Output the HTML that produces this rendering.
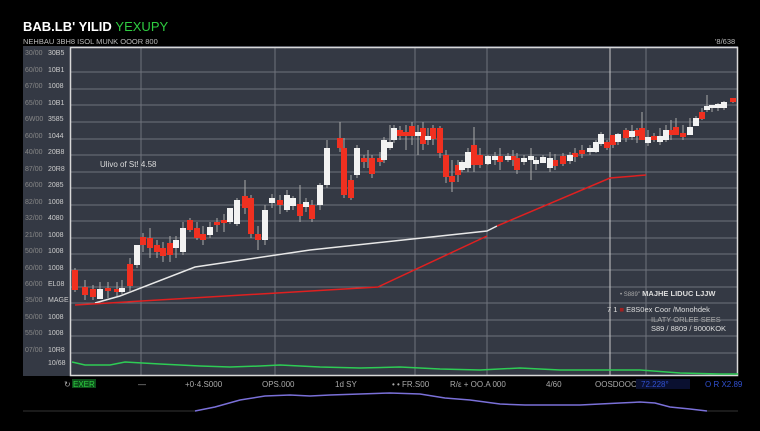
<!DOCTYPE html>
<html><head><meta charset="utf-8"><style>
body{margin:0;background:#000;width:760px;height:426px;overflow:hidden;font-family:"Liberation Sans",sans-serif}
</style></head><body>
<svg width="760" height="426" xmlns="http://www.w3.org/2000/svg" font-family="Liberation Sans, sans-serif">
<rect width="760" height="426" fill="#000"/>
<rect x="23" y="46" width="715" height="330" fill="#343944"/>
<g stroke="#6e737c" stroke-width="1">
<line x1="71" y1="72" x2="738" y2="72"/><line x1="71" y1="89" x2="738" y2="89"/><line x1="71" y1="105" x2="738" y2="105"/><line x1="71" y1="122" x2="738" y2="122"/><line x1="71" y1="139" x2="738" y2="139"/><line x1="71" y1="155" x2="738" y2="155"/><line x1="71" y1="172" x2="738" y2="172"/><line x1="71" y1="188" x2="738" y2="188"/><line x1="71" y1="205" x2="738" y2="205"/><line x1="71" y1="221" x2="738" y2="221"/><line x1="71" y1="238" x2="738" y2="238"/><line x1="71" y1="254" x2="738" y2="254"/><line x1="71" y1="270" x2="738" y2="270"/><line x1="71" y1="287" x2="738" y2="287"/><line x1="71" y1="303" x2="738" y2="303"/><line x1="71" y1="320" x2="738" y2="320"/><line x1="71" y1="336" x2="738" y2="336"/><line x1="71" y1="353" x2="738" y2="353"/>
<line x1="141" y1="47" x2="141" y2="375"/><line x1="275" y1="47" x2="275" y2="375"/><line x1="415" y1="47" x2="415" y2="375"/><line x1="487" y1="47" x2="487" y2="375"/><line x1="646" y1="47" x2="646" y2="375"/>
</g>
<line x1="610" y1="47" x2="610" y2="375" stroke="#c8c8c8"/>
<rect x="70.5" y="47.5" width="667" height="328" fill="none" stroke="#d8d8d8" stroke-width="1.5"/>
<text x="23" y="31" font-size="13" font-weight="bold" fill="#fff">BAB.LB' YILID <tspan fill="#2ecc40" font-weight="normal">YEXUPY</tspan></text>
<text x="23" y="44" font-size="7.5" fill="#bbb">NEHBAU 3BH8 ISOL MUNK OOOR 800</text>
<text x="715" y="44" font-size="7.5" fill="#bbb">'8/638</text>
<g font-size="7" fill="#888"><text x="25" y="55">30/00</text><text x="25" y="72">60/00</text><text x="25" y="88">67/00</text><text x="25" y="105">65/00</text><text x="25" y="121">6W00</text><text x="25" y="138">60/00</text><text x="25" y="154">40/00</text><text x="25" y="171">87/00</text><text x="25" y="187">60/00</text><text x="25" y="204">82/00</text><text x="25" y="220">32/00</text><text x="25" y="237">21/00</text><text x="25" y="253">50/00</text><text x="25" y="270">60/00</text><text x="25" y="286">60/00</text><text x="25" y="302">35/00</text><text x="25" y="319">50/00</text><text x="25" y="335">55/00</text><text x="25" y="352">07/00</text></g>
<g font-size="7" fill="#ccc"><text x="48" y="55">30B5</text><text x="48" y="72">10B1</text><text x="48" y="88">1008</text><text x="48" y="105">10B1</text><text x="48" y="121">3585</text><text x="48" y="138">1044</text><text x="48" y="154">20B8</text><text x="48" y="171">20R8</text><text x="48" y="187">2085</text><text x="48" y="204">1008</text><text x="48" y="220">4080</text><text x="48" y="237">1008</text><text x="48" y="253">1008</text><text x="48" y="270">1008</text><text x="48" y="286">EL08</text><text x="48" y="302">MAGE</text><text x="48" y="319">1008</text><text x="48" y="335">1008</text><text x="48" y="352">10R8</text><text x="48" y="365">10/68</text></g>
<text x="100" y="167" font-size="8" fill="#ddd">Ulivo of St! 4.58</text>
<polyline points="95,303 120,296 195,267 310,250 487,231 497,226" fill="none" stroke="#e8e8e8" stroke-width="1.5"/>
<polyline points="75,305 378,287 487,236" fill="none" stroke="#e02020" stroke-width="1.5"/>
<polyline points="497,226 610,178 646,175" fill="none" stroke="#e02020" stroke-width="1.5"/>
<polyline points="72,362 85,365 110,365 125,362 160,364 200,366 230,367 260,366 280,365 300,366 320,367 360,368 400,367 440,369 480,370 520,368 560,370 600,370 640,370 680,373 720,374 738,374" fill="none" stroke="#2ecc55" stroke-width="1.5"/>
<g id="c"></g>
<g stroke="#aaa" stroke-width="1">
<path d="M75 268V292M85 280V300M93 285V300M100 282V298M108 282V298M117 282V296M122 280V294M130 258V292M137 245V268M143 233V252M150 228V258M157 240V258M163 242V262M170 236V262M176 236V258M183 222V255M190 218V232M197 222V240M203 226V245M210 222V238M217 218V232M224 214V232M230 208V224M237 198V226M245 180V214M251 195V238M258 226V250M265 205V245M272 194V208M280 195V214M287 190V212M293 196V210M300 185V222M306 198V212M312 200V222M320 183V210M327 140V188M340 122V152M344 138V198M351 175V200M357 145V178M364 155V168M368 150V168M372 155V178M380 152V166M384 137V163M390 125V150M394 125V143M400 126V140M406 125V150M412 122V145M418 125V155M423 122V150M428 128V145M433 125V145M440 126V158M446 150V183M452 160V192M458 160V182M462 160V172M468 148V172M474 127V172M480 148V168M488 155V165M495 152V165M500 148V170M508 153V162M513 150V166M517 153V174M524 155V165M531 148V180M536 157V170M543 155V163M550 152V172M555 154V170M563 153V166M570 152V164M575 148V162M582 145V158M590 145V155M596 140V153M601 132V146M607 140V150M613 138V148M618 133V145M626 128V142M632 125V140M637 128V143M642 112V140M648 130V146M654 133V142M660 128V145M666 125V142M671 120V140M676 118V135M683 125V140M690 118V135M696 116V125M702 108V120M707 95V112M712 105V112M718 103V111M724 101V110M733 98V103"/>
</g>
<g fill="#f03020">
<rect x="72" y="270" width="6" height="20"/><rect x="82" y="287" width="6" height="8"/><rect x="90" y="289" width="6" height="8"/><rect x="105" y="288" width="6" height="3"/><rect x="114" y="289" width="6" height="3"/><rect x="127" y="264" width="6" height="22"/><rect x="140" y="237" width="6" height="8"/><rect x="147" y="238" width="6" height="10"/><rect x="154" y="245" width="6" height="7"/><rect x="160" y="248" width="6" height="8"/><rect x="167" y="243" width="6" height="12"/><rect x="187" y="220" width="6" height="10"/><rect x="194" y="228" width="6" height="10"/><rect x="200" y="234" width="6" height="6"/><rect x="214" y="222" width="6" height="3"/><rect x="221" y="220" width="6" height="3"/><rect x="242" y="196" width="6" height="12"/><rect x="248" y="198" width="6" height="36"/><rect x="255" y="234" width="6" height="6"/><rect x="277" y="200" width="6" height="5"/><rect x="297" y="204" width="6" height="12"/><rect x="309" y="205" width="6" height="14"/><rect x="337" y="138" width="6" height="10"/><rect x="341" y="148" width="6" height="47"/><rect x="348" y="180" width="6" height="18"/><rect x="361" y="158" width="6" height="4"/><rect x="369" y="158" width="6" height="16"/><rect x="377" y="158" width="6" height="4"/><rect x="397" y="130" width="6" height="6"/><rect x="403" y="132" width="6" height="4"/><rect x="409" y="126" width="6" height="10"/><rect x="420" y="128" width="6" height="16"/><rect x="430" y="128" width="6" height="11"/><rect x="437" y="128" width="6" height="25"/><rect x="443" y="155" width="6" height="22"/><rect x="449" y="176" width="6" height="6"/><rect x="455" y="165" width="6" height="10"/><rect x="471" y="145" width="6" height="20"/><rect x="477" y="155" width="6" height="10"/><rect x="497" y="156" width="6" height="6"/><rect x="510" y="156" width="6" height="4"/><rect x="514" y="158" width="6" height="12"/><rect x="552" y="160" width="6" height="6"/><rect x="560" y="156" width="6" height="8"/><rect x="572" y="153" width="6" height="4"/><rect x="579" y="150" width="6" height="4"/><rect x="604" y="142" width="6" height="6"/><rect x="610" y="135" width="6" height="10"/><rect x="623" y="130" width="6" height="8"/><rect x="634" y="130" width="6" height="6"/><rect x="639" y="128" width="6" height="12"/><rect x="651" y="136" width="6" height="4"/><rect x="668" y="130" width="6" height="5"/><rect x="673" y="127" width="6" height="8"/><rect x="680" y="133" width="6" height="4"/><rect x="699" y="112" width="6" height="7"/><rect x="730" y="98" width="6" height="4"/>
</g>
<g fill="#f2f2f2">
<rect x="97" y="289" width="6" height="10"/><rect x="119" y="288" width="6" height="4"/><rect x="134" y="245" width="6" height="20"/><rect x="173" y="240" width="6" height="8"/><rect x="180" y="228" width="6" height="24"/><rect x="207" y="227" width="6" height="8"/><rect x="227" y="208" width="6" height="14"/><rect x="234" y="200" width="6" height="24"/><rect x="262" y="210" width="6" height="30"/><rect x="269" y="198" width="6" height="5"/><rect x="284" y="195" width="6" height="15"/><rect x="290" y="198" width="6" height="8"/><rect x="303" y="202" width="6" height="5"/><rect x="317" y="185" width="6" height="20"/><rect x="324" y="148" width="6" height="37"/><rect x="354" y="148" width="6" height="27"/><rect x="381" y="140" width="6" height="20"/><rect x="387" y="142" width="6" height="6"/><rect x="391" y="128" width="6" height="12"/><rect x="415" y="132" width="6" height="4"/><rect x="425" y="136" width="6" height="4"/><rect x="459" y="162" width="6" height="8"/><rect x="465" y="152" width="6" height="16"/><rect x="485" y="156" width="6" height="8"/><rect x="492" y="156" width="6" height="4"/><rect x="505" y="156" width="6" height="4"/><rect x="521" y="158" width="6" height="4"/><rect x="528" y="156" width="6" height="4"/><rect x="533" y="160" width="6" height="4"/><rect x="540" y="157" width="6" height="6"/><rect x="547" y="158" width="6" height="10"/><rect x="567" y="155" width="6" height="6"/><rect x="587" y="148" width="6" height="4"/><rect x="593" y="142" width="6" height="10"/><rect x="598" y="134" width="6" height="10"/><rect x="615" y="134" width="6" height="8"/><rect x="629" y="131" width="6" height="6"/><rect x="645" y="137" width="6" height="6"/><rect x="657" y="136" width="6" height="6"/><rect x="663" y="130" width="6" height="10"/><rect x="687" y="127" width="6" height="8"/><rect x="693" y="118" width="6" height="8"/><rect x="704" y="106" width="6" height="4"/><rect x="709" y="105" width="6" height="3"/><rect x="715" y="104" width="6" height="4"/><rect x="721" y="102" width="6" height="6"/>
</g>
<g font-size="7.5" fill="#ddd">
<text x="620" y="296"><tspan fill="#aaa" font-size="6">• S889''</tspan> <tspan font-weight="bold">MAJHE LIDUC LJJW</tspan></text>
<text x="607" y="312">7 1 <tspan fill="#a02020">■</tspan> E8S0ex Coor /Monohdek</text>
<text x="651" y="322" fill="#aaa">ILATY ORLEE SEES</text>
<text x="651" y="331">S89 / 8809 / 9000KOK</text>
</g>
<g font-size="8" fill="#aaa">
<text x="64" y="387">↻</text><rect x="72" y="379" width="24" height="9" fill="#0d4d1a"/><text x="73" y="387" fill="#2ecc40">EXER</text>
<text x="138" y="387">—</text><text x="185" y="387">+0·4.S000</text><text x="262" y="387">OPS.000</text><text x="335" y="387">1d SY</text><text x="392" y="387">• • FR.S00</text><text x="450" y="387">R/ε + OO.A 000</text><text x="546" y="387">4/60</text><text x="595" y="387">OOSDOOO</text>
<rect x="636" y="379" width="54" height="10" fill="#0a1030"/><text x="641" y="387" fill="#3050d0">72.228°</text><text x="705" y="387" fill="#3050d0">O R X2.89</text>
</g>
<line x1="23" y1="411" x2="195" y2="411" stroke="#222" stroke-width="1.5"/>
<line x1="707" y1="411" x2="738" y2="411" stroke="#222" stroke-width="1.5"/>
<polyline points="195,411 215,407 240,400 265,396 290,395 310,396 330,395 360,394 390,393 420,394 445,398 470,400 500,404 525,405 550,405 580,405 600,404 620,403 640,402 655,403 670,407 690,409 707,411" fill="none" stroke="#7a70d8" stroke-width="1.5"/>
</svg>
</body></html>
